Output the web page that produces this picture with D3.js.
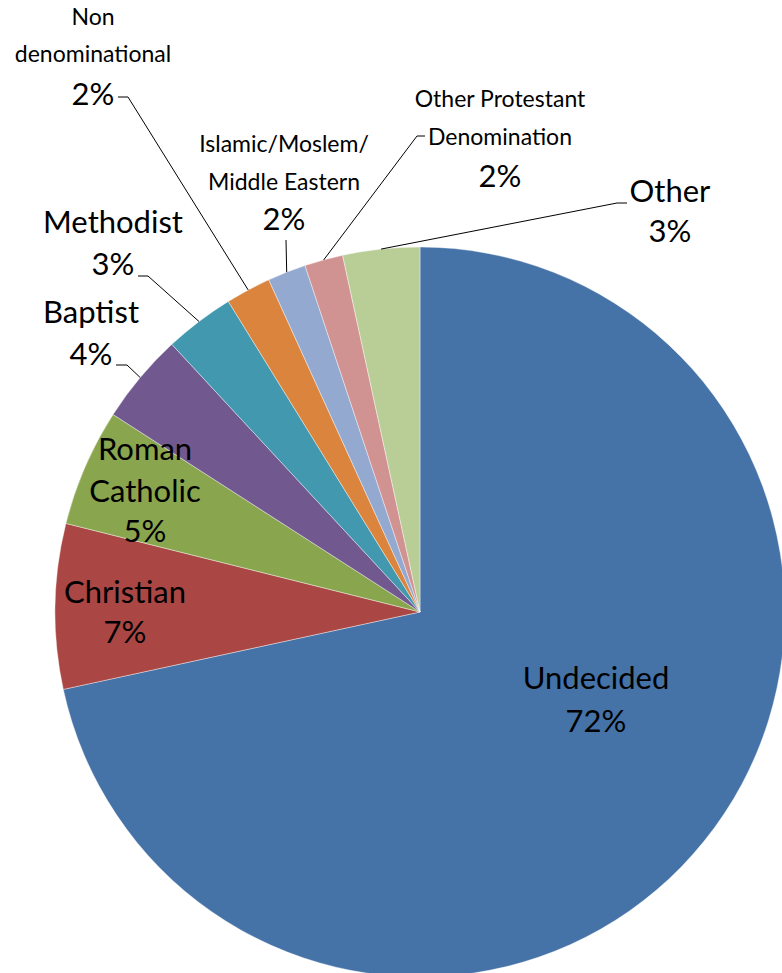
<!DOCTYPE html>
<html>
<head>
<meta charset="utf-8">
<script src="https://cdn.jsdelivr.net/npm/d3@7"></script>
<style>
  body { margin: 0; background: #fff; }
  svg text { font-family: Lato, "Open Sans", sans-serif; fill: #000; }
</style>
</head>
<body>
<div id="pie"></div>
<script>
// slices, clockwise from 12 o'clock
const categories = ["Undecided", "Christian", "Roman Catholic", "Baptist", "Methodist",
    "Non denominational", "Islamic/Moslem/Middle Eastern", "Other Protestant Denomination", "Other"]
const shares = [71.6, 7.3, 5.2, 4.0, 3.1, 2.0, 1.7, 1.7, 3.4]
const nameLines = [["Undecided"], ["Christian"], ["Roman", "Catholic"], ["Baptist"], ["Methodist"],
    ["Non", "denominational"], ["Islamic/Moslem/", "Middle Eastern"], ["Other Protestant", "Denomination"], ["Other"]]
const colors = ["#4572A7", "#AA4643", "#89A54E", "#71588F", "#4198AF", "#DB843D", "#93A9CF", "#D19392", "#B9CD96"]

const width = 782, height = 973
const cx = 420, cy = 612, radius = 365

// label placement relative to the pie centre (baselines of each line), and leader start/elbow
const labelLayout = [
    {x: 176, ys: [77, 120], small: false},
    {x: -295, ys: [-9, 31], small: false},
    {x: -275, ys: [-152, -110, -70], small: false},
    {x: -329, ys: [-289, -247], small: false, lead: [-304, -247], elbow: [-293, -247]},
    {x: -307, ys: [-379, -337], small: false, lead: [-282, -336], elbow: [-272, -336]},
    {x: -327, ys: [-587, -550, -507], small: true, lead: [-302, -515], elbow: [-292, -515]},
    {x: -136, ys: [-460, -422, -382], small: true, lead: [-134, -372]},
    {x: 80, ys: [-505, -467, -425], small: true, lead: [5, -476], elbow: [-3, -476]},
    {x: 250, ys: [-410, -370], small: false, lead: [207, -409], elbow: [197, -409]}
]

const total = d3.sum(shares)
const data = categories.map((c, i) => ({name: c, value: shares[i], i: i}))

const svg = d3.select("#pie")
    .append("svg")
    .attr("width", width)
    .attr("height", height)

const g = svg.append("g")
    .attr("transform", `translate(${cx},${cy})`)

const pie = d3.pie().sort(null).value(d => d.value)
const arc = d3.arc().innerRadius(0).outerRadius(radius)
const edge = d3.arc().innerRadius(radius).outerRadius(radius)

const arcs = pie(data)

g.selectAll("path.slice")
    .data(arcs)
    .join("path")
    .attr("class", "slice")
    .attr("d", arc)
    .attr("fill", d => colors[d.data.i])
    .attr("stroke", "#fff")
    .attr("stroke-width", 0.4)

// leader lines: label side -> middle of the slice's rim
g.selectAll("polyline.leader")
    .data(arcs.filter(d => labelLayout[d.data.i].lead))
    .join("polyline")
    .attr("class", "leader")
    .attr("fill", "none")
    .attr("stroke", "#000")
    .attr("stroke-width", 1)
    .attr("points", d => {
        const L = labelLayout[d.data.i]
        const pts = [L.lead]
        if (L.elbow) pts.push(L.elbow)
        pts.push(edge.centroid(d))
        return pts.map(p => p.join(",")).join(" ")
    })

// labels
const labels = g.selectAll("text.lbl")
    .data(arcs)
    .join("text")
    .attr("class", "lbl")
    .attr("text-anchor", "middle")

labels.each(function(d) {
    const L = labelLayout[d.data.i]
    const lines = nameLines[d.data.i]
    const pct = Math.round(d.data.value / total * 100) + "%"
    const t = d3.select(this)
    lines.forEach((s, k) => {
        t.append("tspan")
            .attr("x", L.x)
            .attr("y", L.ys[k])
            .style("font-size", L.small ? "23px" : "31px")
            .text(s)
    })
    t.append("tspan")
        .attr("x", L.x)
        .attr("y", L.ys[lines.length])
        .style("font-size", "31px")
        .text(pct)
})
</script>
</body>
</html>
